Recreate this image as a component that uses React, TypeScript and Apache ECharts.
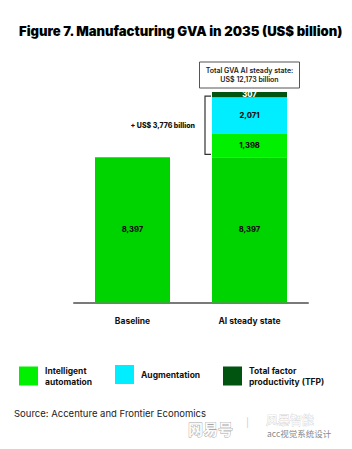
import React, { useEffect, useRef } from "react";
import * as echarts from "echarts";

const categories = ["Baseline", "AI steady state"];
const baselineValues = [8397, 8397];
const automationValues = [null, 1398];
const augmentationValues = [null, 2071];
const tfpValues = [null, 307];
const seriesNames = ["Intelligent automation", "Augmentation", "Total factor productivity (TFP)"];
const legendLabels = ["Intelligent\nautomation", "Augmentation", "Total factor\nproductivity (TFP)"];

const FONT = "Inter, Roboto, sans-serif";
const fmt = (v: number) => v.toLocaleString("en-US");

export default function App() {
  const ref = useRef<HTMLDivElement>(null);
  useEffect(() => {
    if (!ref.current) return;
    const chart = echarts.init(ref.current, null, { renderer: "svg" });
    const barLabel = (color: string) => ({
      show: true,
      position: "inside",
      color,
      fontFamily: FONT,
      fontWeight: 800,
      fontSize: 7.5,
      formatter: (p: any) => fmt(p.value),
    });
    const legendBase = {
      top: 360,
      icon: "rect",
      itemWidth: 19,
      itemHeight: 19,
      selectedMode: false,
      textStyle: { fontFamily: FONT, fontWeight: 700, fontSize: 8.5, color: "#111", lineHeight: 11, padding: [0, 0, 0, 2] },
      formatter: (n: string) => legendLabels[seriesNames.indexOf(n)],
    };
    chart.setOption({
      animation: false,
      backgroundColor: "#fff",
      title: {
        text: "Figure 7. Manufacturing GVA in 2035 (US$ billion)",
        left: 14,
        top: 19,
        textStyle: { fontFamily: FONT, fontWeight: 900, fontSize: 13.1, color: "#000" },
      },
      legend: [
        { ...legendBase, left: 14, data: [seriesNames[0]] },
        { ...legendBase, left: 110, data: [seriesNames[1]] },
        { ...legendBase, left: 218, data: [seriesNames[2]] },
      ],
      grid: { left: 74, right: 44, top: 86.4, bottom: 146.5 },
      xAxis: {
        type: "category",
        data: categories,
        axisLine: { lineStyle: { color: "#7a7a7a", width: 2 } },
        axisTick: { show: false },
        axisLabel: { margin: 14, fontFamily: FONT, fontWeight: 700, fontSize: 8.5, color: "#111" },
      },
      yAxis: { type: "value", min: 0, max: 12500, show: false, splitLine: { show: false } },
      series: [
        { name: "Baseline GVA", type: "bar", stack: "gva", barWidth: 75, data: baselineValues, itemStyle: { color: "#00D400" }, label: barLabel("#111") },
        { name: seriesNames[0], type: "bar", stack: "gva", barWidth: 75, data: automationValues, itemStyle: { color: "#00F000" }, label: barLabel("#111") },
        { name: seriesNames[1], type: "bar", stack: "gva", barWidth: 75, data: augmentationValues, itemStyle: { color: "#00EEFF" }, label: barLabel("#111") },
        { name: seriesNames[2], type: "bar", stack: "gva", barWidth: 75, data: tfpValues, itemStyle: { color: "#00540F" }, label: barLabel("#fff") },
      ],
    });

    const uplift = (automationValues[1] as number) + (augmentationValues[1] as number) + (tfpValues[1] as number);
    const total = baselineValues[1] + uplift;
    const [cx, yTop] = chart.convertToPixel({ gridIndex: 0 }, [1, total]) as number[];
    const [, yBase] = chart.convertToPixel({ gridIndex: 0 }, [1, baselineValues[1]]) as number[];
    const barLeft = cx - 37.5;
    const bx = barLeft - 7;
    const b1 = yTop + 4;
    const b2 = yBase - 3;
    chart.setOption({
      graphic: [
        {
          type: "polyline",
          shape: { points: [[barLeft - 1, b1], [bx, b1], [bx, b2], [barLeft - 1, b2]] },
          style: { stroke: "#333", lineWidth: 1.2, fill: null },
        },
        {
          type: "text",
          x: bx - 10,
          y: (b1 + b2) / 2,
          style: { text: `+ US$ ${fmt(uplift)} billion`, align: "right", verticalAlign: "middle", fontFamily: FONT, fontWeight: 800, fontSize: 7, fill: "#111" },
        },
        {
          type: "rect",
          shape: { x: cx - 50, y: 62, width: 100, height: 26 },
          style: { fill: "#fff", stroke: "#555", lineWidth: 1 },
        },
        {
          type: "text",
          x: cx,
          y: 75,
          style: { text: `Total GVA AI steady state:\nUS$ ${fmt(total)} billion`, align: "center", verticalAlign: "middle", lineHeight: 9.5, fontFamily: FONT, fontWeight: 600, fontSize: 7, fill: "#222" },
        },
        {
          type: "text",
          x: 14,
          y: 413,
          style: { text: "Source: Accenture and Frontier Economics", verticalAlign: "middle", fontFamily: FONT, fontWeight: 400, fontSize: 9.5, fill: "#222" },
        },
        {
          type: "text",
          x: 188,
          y: 428.5,
          style: { text: "网易号", verticalAlign: "middle", fontFamily: "Noto Sans CJK SC", fontWeight: 700, fontSize: 15, fill: "#fff", stroke: "#9a9a9a", lineWidth: 0.8, opacity: 0.9 },
        },
        {
          type: "text",
          x: 246,
          y: 422,
          style: { text: "|", verticalAlign: "middle", fontFamily: FONT, fontSize: 9, fill: "#ccc" },
        },
        {
          type: "text",
          x: 266,
          y: 419,
          style: { text: "风暴智能", verticalAlign: "middle", fontFamily: "Noto Sans CJK SC", fontSize: 12, fill: "#fff", stroke: "#c8c8c8", lineWidth: 0.6 },
        },
        {
          type: "text",
          x: 267,
          y: 433,
          style: { text: "acc视觉系统设计", verticalAlign: "middle", fontFamily: "Noto Sans CJK SC", fontSize: 8.5, fill: "#8a8a8a" },
        },
      ],
    });
    return () => chart.dispose();
  }, []);
  return <div ref={ref} style={{ position: "fixed", left: 0, top: 0, width: 352, height: 449 }} />;
}
